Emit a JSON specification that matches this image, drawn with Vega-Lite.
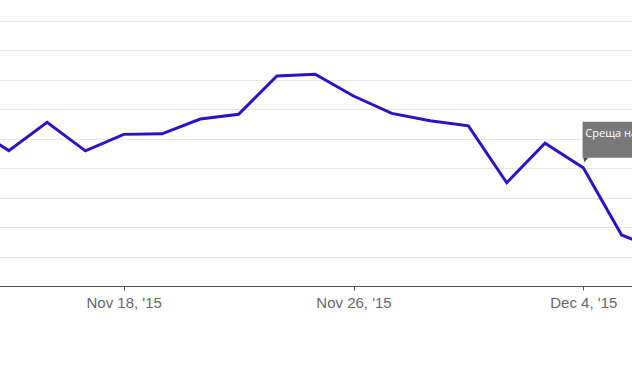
{
  "$schema": "https://vega.github.io/schema/vega-lite/v6.json",
  "width": 632,
  "height": 286,
  "autosize": {"type": "none"},
  "padding": {"left": 0, "top": 0, "right": 0, "bottom": 92},
  "background": "white",
  "config": {"view": {"stroke": null}},
  "data": {"values": [
    {"date": "2015-11-12", "price": 44.4},
    {"date": "2015-11-13", "price": 43.59},
    {"date": "2015-11-16", "price": 44.55},
    {"date": "2015-11-17", "price": 43.58},
    {"date": "2015-11-18", "price": 44.14},
    {"date": "2015-11-19", "price": 44.16},
    {"date": "2015-11-20", "price": 44.66},
    {"date": "2015-11-23", "price": 44.82},
    {"date": "2015-11-24", "price": 46.12},
    {"date": "2015-11-25", "price": 46.18},
    {"date": "2015-11-26", "price": 45.44},
    {"date": "2015-11-27", "price": 44.85},
    {"date": "2015-11-30", "price": 44.6},
    {"date": "2015-12-01", "price": 44.43},
    {"date": "2015-12-02", "price": 42.5},
    {"date": "2015-12-03", "price": 43.84},
    {"date": "2015-12-04", "price": 43.01, "note": "Среща на ОПЕК"},
    {"date": "2015-12-07", "price": 40.73},
    {"date": "2015-12-08", "price": 40.22}
  ]},
  "encoding": {
    "x": {
      "field": "date", "type": "ordinal", "sort": null,
      "scale": {"type": "point", "padding": 0, "range": [-29.5, 659.9]},
      "axis": {
        "title": null,
        "values": ["2015-11-18", "2015-11-26", "2015-12-04"],
        "labelExpr": "utcFormat(toDate(datum.value), \"%b %-d, '%y\")",
        "labelAngle": 0,
        "labelFont": "Liberation Sans",
        "labelFontSize": 15,
        "labelColor": "#666666",
        "labelPadding": 5,
        "tickSize": 4,
        "tickColor": "#555555",
        "domainColor": "#555555",
        "domainWidth": 1,
        "grid": false
      }
    },
    "y": {
      "field": "price", "type": "quantitative",
      "scale": {"domain": [39, 48.695], "nice": false, "zero": false},
      "axis": {
        "title": null,
        "labels": false,
        "ticks": false,
        "domain": false,
        "grid": true,
        "values": [40, 41, 42, 43, 44, 45, 46, 47, 48],
        "gridColor": "#e6e6e6",
        "gridWidth": 1
      }
    }
  },
  "layer": [
    {
      "mark": {"type": "line", "color": "#2d10c9", "strokeWidth": 3, "clip": true, "strokeJoin": "miter"}
    },
    {
      "transform": [{"filter": "datum.note != null"}],
      "mark": {
        "type": "point", "filled": true, "opacity": 1, "fill": "#787878", "strokeWidth": 0, "size": 10000,
        "shape": "M-0.014,-0.92 L2.2,-0.92 L2.2,-0.2 L-0.014,-0.2 Z"
      }
    },
    {
      "transform": [{"filter": "datum.note != null"}],
      "mark": {
        "type": "point", "filled": true, "opacity": 1, "fill": "#4a4a4a", "strokeWidth": 0, "size": 10000,
        "shape": "M0,-0.2 L0.1,-0.2 L0.02,-0.11 Z"
      }
    },
    {
      "transform": [{"filter": "datum.note != null"}],
      "mark": {
        "type": "text", "align": "left", "baseline": "alphabetic", "dx": 2, "dy": -30.5,
        "font": "Open Sans", "fontSize": 11, "color": "white"
      },
      "encoding": {"text": {"field": "note"}}
    }
  ]
}
